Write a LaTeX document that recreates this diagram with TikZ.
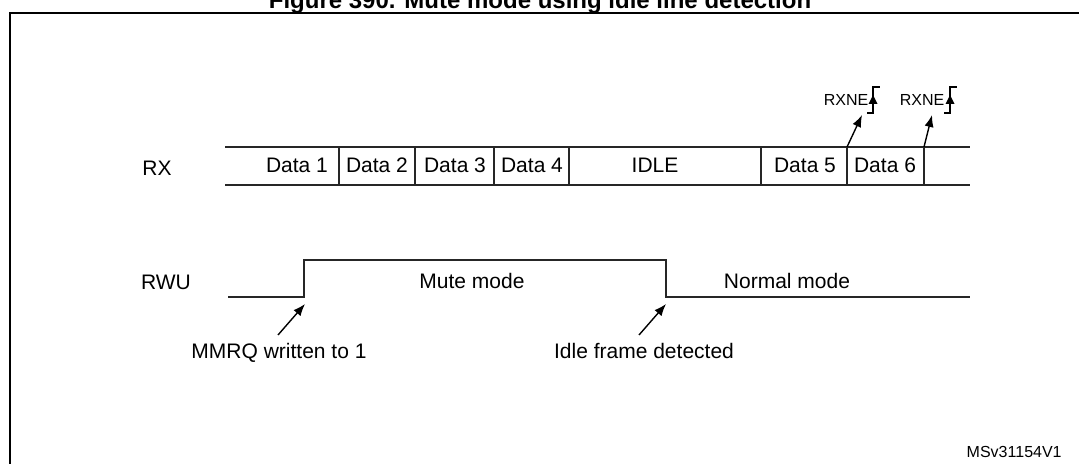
\documentclass[tikz,border=0pt]{standalone}
\usepackage{fontspec}
\setmainfont{Liberation Sans}
\usetikzlibrary{arrows,arrows.meta}
\tikzstyle{txt}=[anchor=base,inner sep=0pt,font=\fontsize{10.5}{12}\selectfont]
\tikzstyle{smalltxt}=[anchor=base,inner sep=0pt,font=\fontsize{8}{9}\selectfont]
\tikzstyle{sig} = [draw,line width=0.75pt,black!85]
\tikzstyle{edge} = [draw,line width=0.7pt,-]

\begin{document}
\begin{tikzpicture}[x=0.5pt,y=-0.5pt]
        \tikzset{edge/.style = {draw,line width=0.7pt,->,>={Latex[length=6pt,width=4.6pt]}}}
        \useasboundingbox (0,0) rectangle (1079,464);
        % frame and title
        \draw[line width=1pt] (10,464) -- (10,13.5) -- (1079,13.5);
        \node[anchor=base,inner sep=0pt,font=\fontsize{12}{14}\selectfont\bfseries] (title) at (540,9) {Figure 390. Mute mode using idle line detection};
        % RX line
        \node[txt] (rx) at (157,176) {RX};
        \draw[sig] (225,147) -- (970,147);
        \draw[sig] (225,185) -- (970,185);
        \draw[sig] (339,147) -- (339,185);
        \draw[sig] (415,147) -- (415,185);
        \draw[sig] (494,147) -- (494,185);
        \draw[sig] (569,147) -- (569,185);
        \draw[sig] (761,147) -- (761,185);
        \draw[sig] (847,147) -- (847,185);
        \draw[sig] (924,147) -- (924,185);
        \node[txt] (d1) at (297,173) {Data 1};
        \node[txt] (d2) at (377,173) {Data 2};
        \node[txt] (d3) at (455,173) {Data 3};
        \node[txt] (d4) at (532,173) {Data 4};
        \node[txt] (idle) at (655,173) {IDLE};
        \node[txt] (d5) at (805,173) {Data 5};
        \node[txt] (d6) at (885,173) {Data 6};
        % RXNE flags
        \node[smalltxt] (rxne1) at (846,106) {RXNE};
        \node[smalltxt] (rxne2) at (922,106) {RXNE};
        \draw[line width=0.6pt] (867,113) -- (873,113) -- (873,87) -- (880,87);
        \fill (868.5,104) -- (877.5,104) -- (873,95) -- cycle;
        \draw[line width=0.6pt] (944,113) -- (950,113) -- (950,87) -- (957,87);
        \fill (945.5,104) -- (954.5,104) -- (950,95) -- cycle;
        \coordinate (end5) at (847,147);
        \coordinate (end6) at (924,147);
        \coordinate (tip5) at (862,115);
        \coordinate (tip6) at (932,115);
        \draw[edge] (end5) to (tip5);
        \draw[edge] (end6) to (tip6);
        % RWU line
        \node[txt] (rwu) at (166,289) {RWU};
        \draw[sig] (228,297) -- (304,297) -- (304,260) -- (666,260) -- (666,297) -- (970,297);
        \node[txt] (mute) at (472,288) {Mute mode};
        \node[txt] (normal) at (787,288) {Normal mode};
        \node[txt] (mmrq) at (279,358) {MMRQ written to 1};
        \node[txt] (idlefr) at (644,358) {Idle frame detected};
        \coordinate (mmrqtail) at (278,335);
        \coordinate (mmrqtip) at (305,304);
        \coordinate (idletail) at (639,335);
        \coordinate (idletip) at (666,304);
        \draw[edge] (mmrqtail) to (mmrqtip);
        \draw[edge] (idletail) to (idletip);
        \node[smalltxt,anchor=base east] (ref) at (1062,457) {MSv31154V1};
      \end{tikzpicture}
\end{document}
